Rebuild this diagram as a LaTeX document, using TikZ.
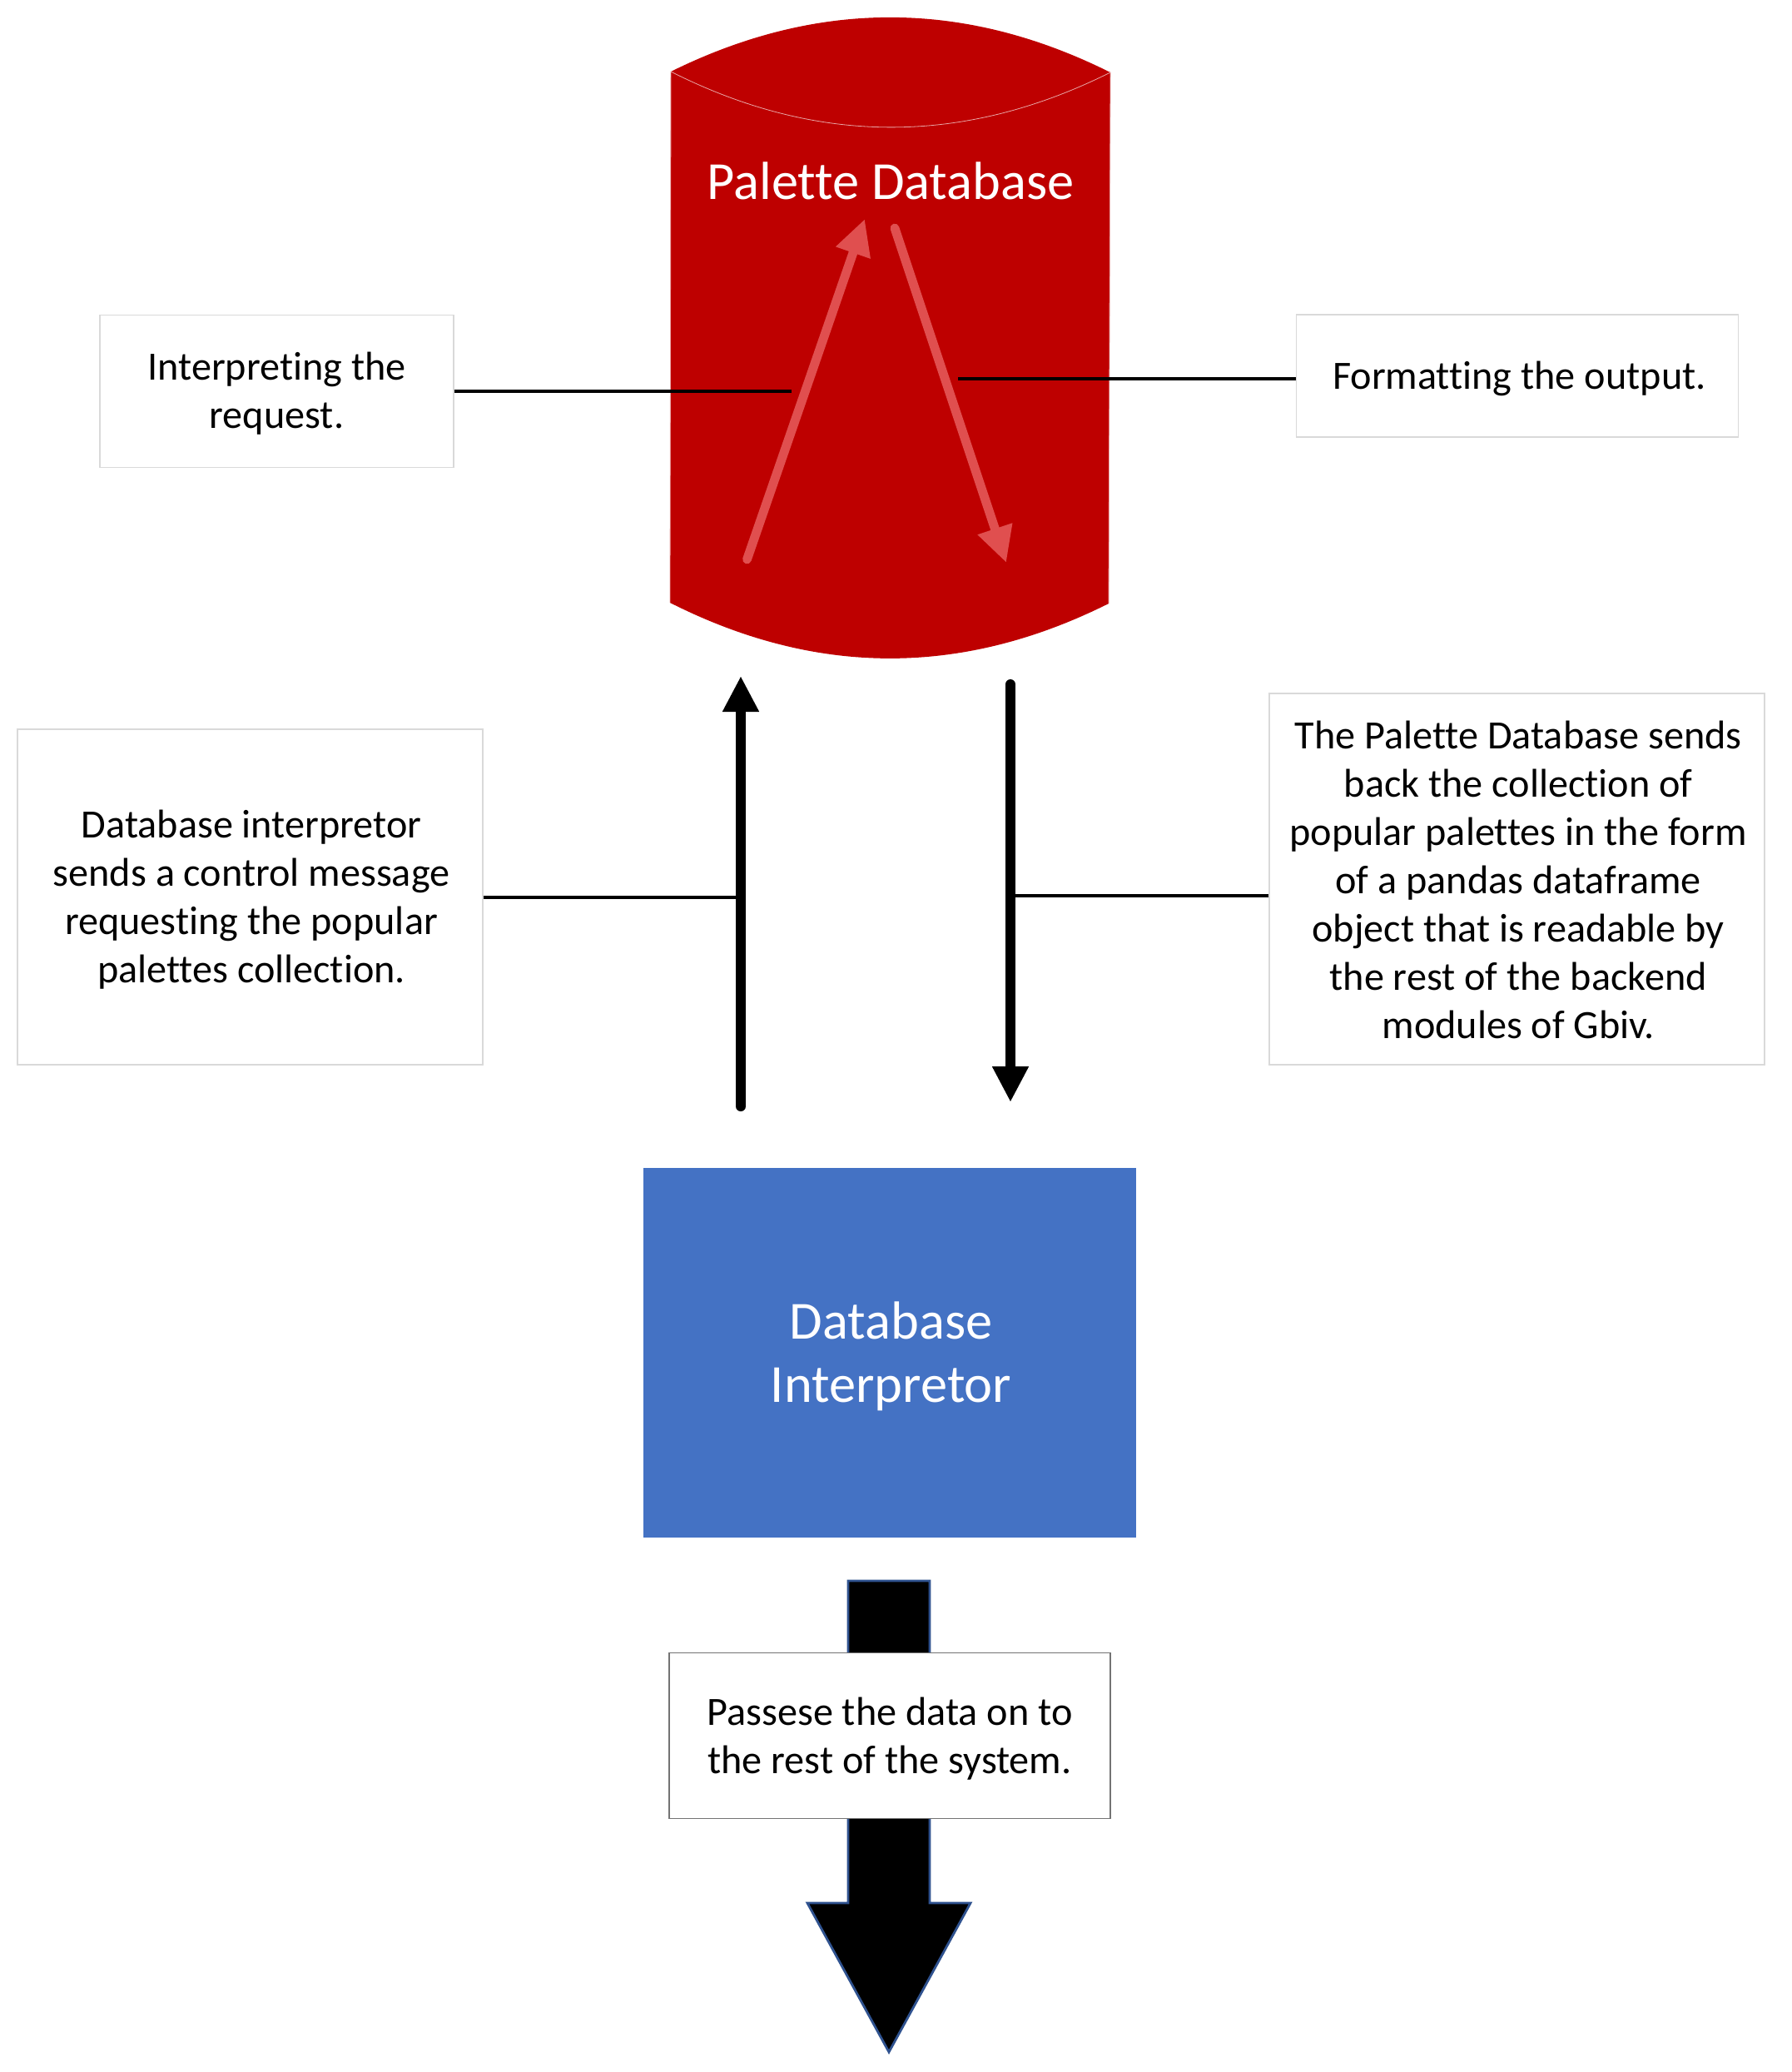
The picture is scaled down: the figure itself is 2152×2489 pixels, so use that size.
\documentclass[tikz,border=0pt]{standalone}
\usepackage{fontspec}
\setmainfont{Carlito}[Ligatures=NoCommon]
\usetikzlibrary{calc, arrows.meta, positioning}

\begin{document}
\begin{tikzpicture}[
    x=0.5pt, y=-0.5pt,
    >={Stealth[inset=0pt, length=21.5pt, width=20.5pt]},
    note/.style={rectangle, draw=black!15, line width=0.6pt, fill=white, inner sep=0pt},
    note text/.style={align=center, text=black, inner sep=0pt, font=\fontsize{24.1}{29}\selectfont},
    title/.style={align=center, text=white, inner sep=0pt, font=\fontsize{32.2}{38}\selectfont},
    leader/.style={draw=black, line width=1.6pt},
    flow/.style={->, draw=black, line width=6pt, line cap=round},
    inner flow/.style={->, draw=dbarrow, line width=5.4pt, line cap=round}
]
    \definecolor{dbred}{HTML}{BE0000}
    \definecolor{dbarrow}{HTML}{E04F4F}
    \definecolor{dbblue}{HTML}{4472C4}
    \definecolor{edgeblue}{HTML}{2F528F}

    \path[use as bounding box] (0,0) rectangle (2152,2489);

    % Database ---------------------------------------------------

    \fill[dbred] (806,86) .. controls (982,-1) and (1158,-1) .. (1334,87)
        -- (1332,725) .. controls (1156,813) and (981,813) .. (805,724) -- cycle;
    \draw[dbred!35!white, line width=0.4pt] (805,724) -- (806,86)
        .. controls (982,175) and (1158,175) .. (1334,87) -- (1332,725);

    \node[title] (db) at (1070,217) {Palette Database};

    \coordinate (up_start) at (897.5,672);
    \coordinate (up_end) at (1039,263);
    \coordinate (down_start) at (1075,274);
    \coordinate (down_end) at (1209,676);
    \draw[inner flow] (up_start) -- (up_end);
    \draw[inner flow] (down_start) -- (down_end);

    % Nodes ------------------------------------------------------

    \node[note, minimum width=212.5pt, minimum height=91.5pt] (interpreting) at (332.5,470) {};
    \node[note, minimum width=265.7pt, minimum height=73.5pt] (formatting) at (1823,451.5) {};
    \node[note, minimum width=279.5pt, minimum height=201.5pt] (request) at (300.5,1077.5) {};
    \node[note, minimum width=297.5pt, minimum height=223pt] (response) at (1822.5,1056) {};
    \node[rectangle, fill=dbblue, inner sep=0pt, minimum width=296pt, minimum height=222pt] (interpretor) at (1069,1625) {};

    % labels
    \node[note text, yshift=-1.2pt] (interpreting_label) at (interpreting) {Interpreting the\\request.};
    \node[note text, xshift=1.2pt, yshift=-1.5pt] (formatting_label) at (formatting) {Formatting the output.};
    \node[note text, xshift=0.8pt, yshift=-1.6pt] (request_label) at (request) {Database interpretor\\sends a control message\\requesting the popular\\palettes collection.};
    \node[note text, xshift=0.8pt, yshift=-0.4pt] (response_label) at (response) {The Palette Database sends\\back the collection of\\popular palettes in the form\\of a pandas dataframe\\object that is readable by\\the rest of the backend\\modules of Gbiv.};
    \node[title, xshift=0.8pt, yshift=-2.4pt] (interpretor_label) at (interpretor) {Database\\Interpretor};

    % Arrows ---------------------------------------------------

    \coordinate (in_tail) at (890,1329);
    \coordinate (in_tip) at (890,812);
    \coordinate (out_tail) at (1214,822);
    \coordinate (out_tip) at (1214,1324);
    \draw[flow] (in_tail) -- (in_tip);
    \draw[flow] (out_tail) -- (out_tip);

    \coordinate (interpreting_end) at (951,470);
    \coordinate (formatting_end) at (1151,455);
    \coordinate (request_end) at (884,1078);
    \coordinate (response_end) at (1220,1076);
    \draw[leader] (interpreting.east |- interpreting_end) -- (interpreting_end);
    \draw[leader] (formatting.west |- formatting_end) -- (formatting_end);
    \draw[leader] (request.east |- request_end) -- (request_end);
    \draw[leader] (response.west |- response_end) -- (response_end);

    % Output ---------------------------------------------------

    \draw[draw=edgeblue, fill=black, line width=1.4pt] (1019,1899) -- (1117,1899) -- (1117,2286)
        -- (1166,2286) -- (1068,2465) -- (970,2286) -- (1019,2286) -- cycle;
    \node[note, draw=black!55, minimum width=265pt, minimum height=99.5pt] (passes) at (1069,2085) {};
    \node[note text, yshift=-1.6pt] (passes_label) at (passes) {Passese the data on to\\the rest of the system.};

\end{tikzpicture}
\end{document}
